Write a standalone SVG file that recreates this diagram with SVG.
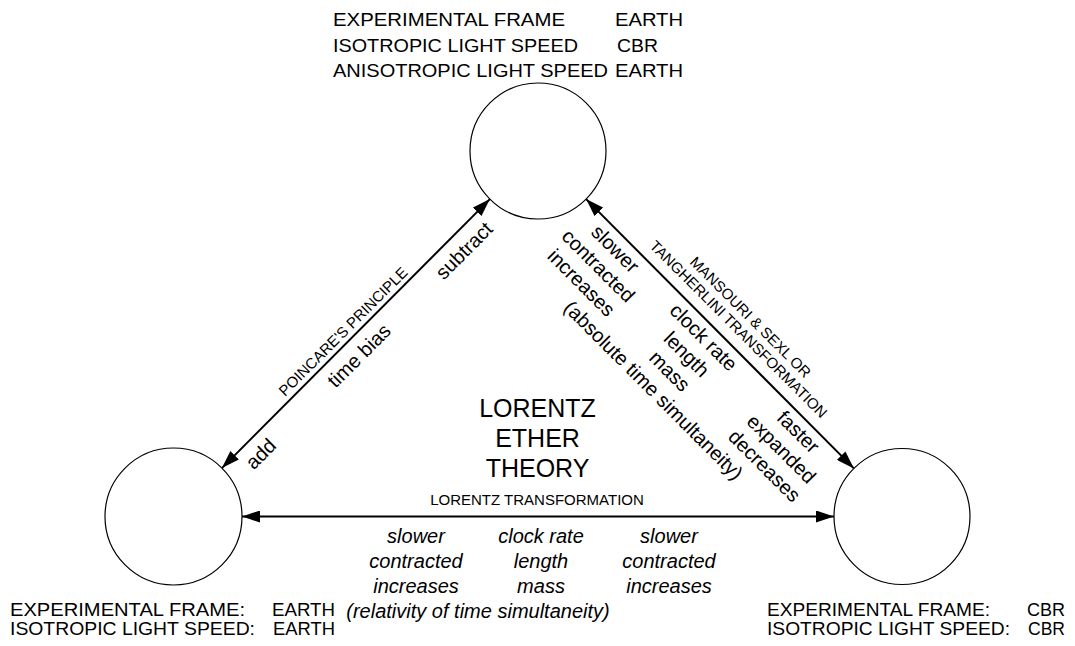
<svg xmlns="http://www.w3.org/2000/svg" width="1075" height="646" viewBox="0 0 1075 646">
<style>
text{font-family:"Liberation Sans",Arial,sans-serif;fill:#000}
.big{font-size:18px}
.lbl{font-size:20px;text-anchor:middle}
.it{font-size:20px;font-style:italic;text-anchor:middle}
.sm{font-size:15px;text-anchor:middle}
.title{font-size:25px;text-anchor:middle}
.node{fill:#fff;stroke:#000;stroke-width:1.2}
.conn{stroke:#000;stroke-width:2;fill:none;marker-start:url(#ah);marker-end:url(#ah)}
</style>
<defs>
<marker id="ah" viewBox="0 0 18 12" refX="18" refY="6" markerWidth="18" markerHeight="12" markerUnits="userSpaceOnUse" orient="auto-start-reverse"><path d="M0,0 L18,6 L0,12 z" fill="#000"/></marker>
</defs>
<rect width="1075" height="646" fill="#fff"/>
<g id="connectors">
<line class="conn" x1="489.9" y1="199.1" x2="221.9" y2="468.1"/>
<line class="conn" x1="586.1" y1="199.1" x2="853.9" y2="468.4"/>
<line class="conn" x1="242" y1="516.5" x2="834" y2="516.5"/>
</g>
<g id="node-ether">
<circle class="node" cx="538" cy="151" r="68"/>
<text class="big" x="333" y="26" textLength="232" lengthAdjust="spacingAndGlyphs">EXPERIMENTAL FRAME</text>
<text class="big" x="615" y="26" textLength="68" lengthAdjust="spacingAndGlyphs">EARTH</text>
<text class="big" x="333" y="52" textLength="245" lengthAdjust="spacingAndGlyphs">ISOTROPIC LIGHT SPEED</text>
<text class="big" x="617" y="52" textLength="41" lengthAdjust="spacingAndGlyphs">CBR</text>
<text class="big" x="333" y="77" textLength="275" lengthAdjust="spacingAndGlyphs">ANISOTROPIC LIGHT SPEED</text>
<text class="big" x="615" y="77" textLength="68" lengthAdjust="spacingAndGlyphs">EARTH</text>
</g>
<g id="node-earth">
<circle class="node" cx="173.5" cy="516.5" r="68.5"/>
<text class="big" x="10" y="616" textLength="235" lengthAdjust="spacingAndGlyphs">EXPERIMENTAL FRAME:</text>
<text class="big" x="272" y="616" textLength="63" lengthAdjust="spacingAndGlyphs">EARTH</text>
<text class="big" x="10" y="635" textLength="245" lengthAdjust="spacingAndGlyphs">ISOTROPIC LIGHT SPEED:</text>
<text class="big" x="273" y="635" textLength="62" lengthAdjust="spacingAndGlyphs">EARTH</text>
</g>
<g id="node-cbr">
<circle class="node" cx="902" cy="516.5" r="68"/>
<text class="big" x="767" y="616" textLength="223" lengthAdjust="spacingAndGlyphs">EXPERIMENTAL FRAME:</text>
<text class="big" x="1027" y="616" textLength="38" lengthAdjust="spacingAndGlyphs">CBR</text>
<text class="big" x="767" y="635" textLength="243" lengthAdjust="spacingAndGlyphs">ISOTROPIC LIGHT SPEED:</text>
<text class="big" x="1028" y="635" textLength="37" lengthAdjust="spacingAndGlyphs">CBR</text>
</g>
<g id="title">
<text class="title" x="537.5" y="417">LORENTZ</text>
<text class="title" x="537.5" y="447">ETHER</text>
<text class="title" x="537.5" y="477">THEORY</text>
</g>
<g id="labels-left">
<g transform="translate(350.3,338.7) rotate(-45)"><text class="sm" y="-5">POINCARE'S PRINCIPLE</text></g>
<g transform="translate(346.2,342.9) rotate(-45)"><text class="lbl" y="25">time bias</text></g>
<g transform="translate(451.2,237.8) rotate(-45)"><text class="lbl" y="25">subtract</text></g>
<g transform="translate(247.9,441.1) rotate(-45)"><text class="lbl" y="25">add</text></g>
</g>
<g id="labels-right">
<g transform="translate(727.1,340.6) rotate(45)"><text class="sm" y="-28">MANSOURI &amp; SEXL OR</text><text class="sm" y="-11">TANGHERLINI TRANSFORMATION</text></g>
<g transform="translate(625.3,238.8) rotate(45)"><text class="lbl" y="21">slower</text><text class="lbl" y="45">contracted</text><text class="lbl" y="69">increases</text></g>
<g transform="translate(715.1,328.6) rotate(45)"><text class="lbl" y="94">(absolute time simultaneity)</text></g>
<g transform="translate(713.7,327.2) rotate(45)"><text class="lbl" y="21">clock rate</text><text class="lbl" y="45">length</text><text class="lbl" y="69">mass</text></g>
<g transform="translate(808.4,421.9) rotate(45)"><text class="lbl" y="21">faster</text><text class="lbl" y="45">expanded</text><text class="lbl" y="69">decreases</text></g>
</g>
<g id="labels-bottom">
<text class="sm" x="537" y="505">LORENTZ TRANSFORMATION</text>
<text class="it" x="416" y="543">slower</text>
<text class="it" x="416" y="568">contracted</text>
<text class="it" x="416" y="593">increases</text>
<text class="it" x="541" y="543">clock rate</text>
<text class="it" x="541" y="568">length</text>
<text class="it" x="541" y="593">mass</text>
<text class="it" x="669" y="543">slower</text>
<text class="it" x="669" y="568">contracted</text>
<text class="it" x="669" y="593">increases</text>
<text class="it" x="478" y="618">(relativity of time simultaneity)</text>
</g>
</svg>
